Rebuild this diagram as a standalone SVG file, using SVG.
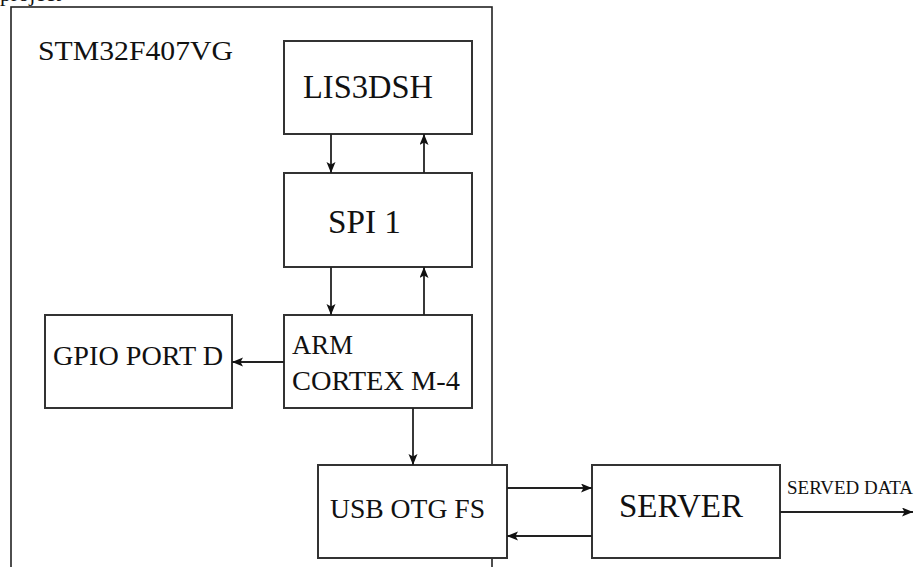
<svg xmlns="http://www.w3.org/2000/svg" width="914" height="567" viewBox="0 0 914 567">
<style>
.box{fill:#fff;stroke:#333;stroke-width:2}
.frame{fill:none;stroke:#222;stroke-width:1.6}
.lbl{font-family:"Liberation Serif","Times New Roman",serif;fill:#111}
.con{stroke:#222;stroke-width:1.8;fill:none;marker-end:url(#ah)}
</style>
<defs>
<marker id="ah" markerUnits="userSpaceOnUse" markerWidth="12" markerHeight="10" refX="11" refY="4.5" orient="auto">
<path d="M0,0 L11,4.5 L0,9 L2.5,4.5 z" fill="#111"/>
</marker>
</defs>
<rect width="914" height="567" fill="#fff"/>
<text class="lbl" x="0" y="1" font-size="22">project</text>
<g id="stm32">
<rect class="frame" x="11" y="7" width="481" height="600"/>
<text class="lbl" x="38" y="60" font-size="27" textLength="195" lengthAdjust="spacingAndGlyphs">STM32F407VG</text>
</g>
<g id="lis3dsh">
<rect class="box" x="284" y="41" width="188" height="93"/>
<text class="lbl" x="303" y="98" font-size="33" textLength="130" lengthAdjust="spacingAndGlyphs">LIS3DSH</text>
</g>
<g id="spi1">
<rect class="box" x="284" y="173" width="188" height="94"/>
<text class="lbl" x="328" y="233" font-size="34" textLength="73" lengthAdjust="spacingAndGlyphs">SPI 1</text>
</g>
<g id="arm">
<rect class="box" x="284" y="315" width="188" height="93"/>
<text class="lbl" x="292" y="354" font-size="27" textLength="61" lengthAdjust="spacingAndGlyphs">ARM</text>
<text class="lbl" x="292" y="390" font-size="27" textLength="168" lengthAdjust="spacingAndGlyphs">CORTEX M-4</text>
</g>
<g id="gpio">
<rect class="box" x="45" y="315" width="187" height="93"/>
<text class="lbl" x="53" y="365" font-size="27" textLength="170" lengthAdjust="spacingAndGlyphs">GPIO PORT D</text>
</g>
<g id="usb">
<rect class="box" x="318" y="465" width="189" height="93"/>
<text class="lbl" x="330" y="518" font-size="28" textLength="155" lengthAdjust="spacingAndGlyphs">USB OTG FS</text>
</g>
<g id="server">
<rect class="box" x="592" y="465" width="188" height="93"/>
<text class="lbl" x="619" y="517" font-size="33" textLength="124" lengthAdjust="spacingAndGlyphs">SERVER</text>
</g>
<g id="connectors">
<line class="con" x1="331" y1="134" x2="331" y2="173"/>
<line class="con" x1="424" y1="173" x2="424" y2="134"/>
<line class="con" x1="331" y1="267" x2="331" y2="315"/>
<line class="con" x1="424" y1="315" x2="424" y2="267"/>
<line class="con" x1="284" y1="362" x2="232" y2="362"/>
<line class="con" x1="413" y1="408" x2="413" y2="465"/>
<line class="con" x1="507" y1="488" x2="592" y2="488"/>
<line class="con" x1="592" y1="536" x2="507" y2="536"/>
<line class="con" x1="780" y1="512" x2="913" y2="512"/>
<text class="lbl" x="787" y="494" font-size="19" textLength="126" lengthAdjust="spacingAndGlyphs">SERVED DATA</text>
</g>
</svg>
